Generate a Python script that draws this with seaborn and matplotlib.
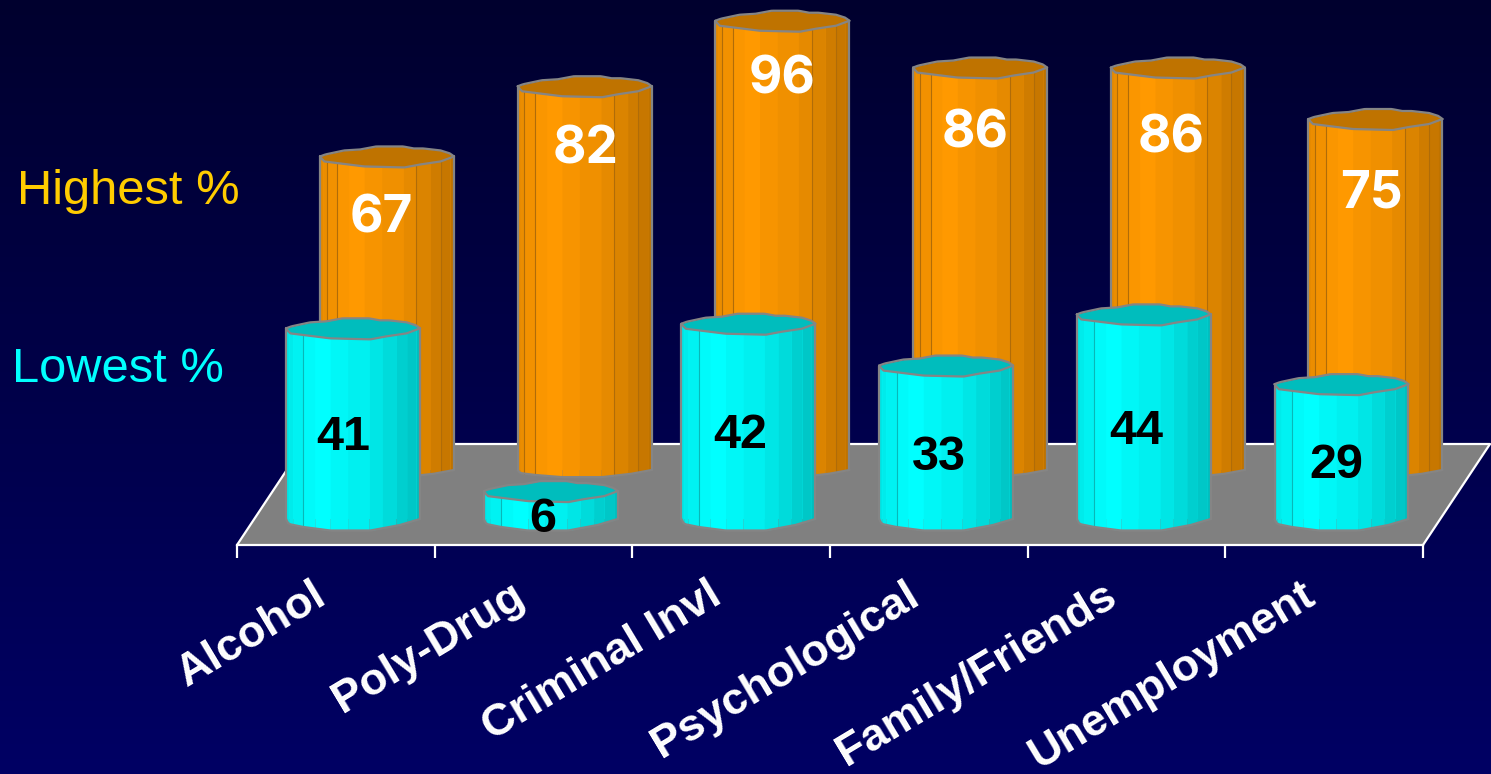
import numpy as np
import pandas as pd
import seaborn as sns
import matplotlib.pyplot as plt
from matplotlib.transforms import ScaledTranslation

# chart values
categories = ['Alcohol', 'Poly-Drug', 'Criminal Invl', 'Psychological', 'Family/Friends', 'Unemployment']
highest = [67, 82, 96, 86, 86, 75]
lowest = [41, 6, 42, 33, 44, 29]

W, H = 1491, 774

# cylinder look: facet edges across the bar width and their brightness
facet_edges = [0, .02, .05, .13, .215, .33, .46, .62, .72, .82, .90, .97, 1]
facet_shade = [.90, .92, .95, .98, 1, .97, .94, .90, .86, .81, .78, .75]
# outline wobble in pixels, (u, offset), negative is up
back_rim = ([0, .04, .18, .30, .42, .62, .70, .77, .90, .97, 1], [0, -2, -6, -7, -10, -10, -8, -8, -6, -3, 0])
front_rim = ([0, .03, .15, .33, .63, .75, .90, 1], [0, 5, 7, 10, 11, 8, 5, 0])
bottom_rim = ([0, .02, .13, .33, .63, .85, 1], [0, 5, 8, 11.5, 11.5, 6, 0])

# value label nudges in pixels
back_nudge = [(-2, 6), (5, 8), (4, 3), (-1, 10), (-3, 15), (0, 19)]
front_nudge = [(-1, 4), (1, 13), (1, 4), (2, 8), (1, 5), (4, 7)]


def px_axes(fig, left, right, top, bottom):
    return fig.add_axes([left / W, 1 - bottom / H, (right - left) / W, (bottom - top) / H])


def draw_cylinders(ax, values, color, top_color, line_color, px_per_unit, bulge, line_edges):
    df = pd.DataFrame({'category': categories, 'value': values})
    sns.barplot(data=df, x='category', y='value', color=color, saturation=1, width=134 / 197.7, ax=ax)
    ax.set_xlim(-.5, 5.5)
    ax.set_ylim(0, 100)
    ax.axis('off')
    rgb = np.array(plt.matplotlib.colors.to_rgb(color))
    for bar in ax.patches:
        x0, w, v = bar.get_x(), bar.get_width(), bar.get_height()
        bar.set_clip_on(False)
        bar.set_linewidth(0)
        u = np.linspace(0, 1, 61)
        top_front = v - np.interp(u, *front_rim) / px_per_unit
        top_back = v - np.interp(u, *back_rim) / px_per_unit
        bottom = -bulge * np.interp(u, *bottom_rim) / px_per_unit
        for k in range(len(facet_shade)):
            m = (u >= facet_edges[k] - 1e-9) & (u <= facet_edges[k + 1] + 1e-9)
            uu = np.r_[facet_edges[k], u[m], facet_edges[k + 1]]
            ax.fill_between(x0 + uu * w, np.interp(uu, u, bottom), np.interp(uu, u, top_front),
                            color=rgb * facet_shade[k], lw=0, clip_on=False, zorder=3)
        for e in line_edges:
            ax.plot([x0 + e * w] * 2, [np.interp(e, u, bottom), np.interp(e, u, top_front)],
                    color=line_color, lw=.8, clip_on=False, zorder=4)
        ax.fill_between(x0 + u * w, top_front, top_back, color=top_color, lw=0, clip_on=False, zorder=5)
        # grey outline of body and rim
        for line in (top_front, top_back, bottom):
            ax.plot(x0 + u * w, line, color='#858585', lw=1.6, clip_on=False, zorder=6)
        ax.plot([x0, x0], [0, v], color='#858585', lw=1.6, clip_on=False, zorder=6)
        ax.plot([x0 + w, x0 + w], [0, v], color='#858585', lw=1.6, clip_on=False, zorder=6)


sns.set_theme(style='white')
fig = plt.figure(figsize=(W / 100, H / 100), dpi=100)

# background and floor, in pixels
bg = fig.add_axes([0, 0, 1, 1])
grad = np.linspace(0, 1, 256).reshape(-1, 1)
bg.imshow(grad, extent=(0, W, H, 0), aspect='auto', vmin=0, vmax=1,
          cmap=plt.matplotlib.colors.LinearSegmentedColormap.from_list('bg', ['#00002e', '#000064']))
bg.fill([237, 1423, 1490, 304], [545, 545, 444, 444], color='#808080', lw=0)
bg.plot([237, 304, 1490, 1423], [545, 444, 444, 545], color='white', lw=1.6)
bg.set_xlim(0, W)
bg.set_ylim(H, 0)
bg.axis('off')
bg.text(17, 191, 'Highest %', color='#ffcc00', fontsize=35.2, family='Liberation Sans', va='center')
bg.text(12, 370, 'Lowest %', color='#00ffff', fontsize=35.2, family='Liberation Sans', va='center')

# back row
ax_back = px_axes(fig, 288.15, 1474.35, 2, 470)
ax_back.patch.set_alpha(0)
draw_cylinders(ax_back, highest, '#ff9900', '#bf7300', '#b06c08', 4.68, .62, [.05, .13, .72, .90])
for i, v in enumerate(highest):
    ax_back.annotate(str(v), (i - .02, v - 12), xytext=(back_nudge[i][0], -back_nudge[i][1]),
                     textcoords='offset pixels', color='white', fontsize=37, fontweight='bold',
                     family='Inter', ha='center', va='center', zorder=8)

# category axis, sits on the front edge of the floor
ax_x = px_axes(fig, 237, 1423, 535, 545)
ax_x.patch.set_alpha(0)
ax_x.set_xlim(-.5, 5.5)
ax_x.set_ylim(0, 1)
ax_x.set_yticks([])
sns.despine(ax=ax_x, left=True, top=True, right=True)
ax_x.spines['bottom'].set_color('white')
ax_x.spines['bottom'].set_linewidth(1.6)
ax_x.set_xticks(range(6), categories, rotation=31, ha='right', va='baseline',
                rotation_mode='anchor', color='white', fontsize=32.5, fontweight='bold',
                family='Liberation Sans')
ax_x.tick_params(axis='x', which='major', length=0, pad=0)
ax_x.set_xticks(np.arange(-.5, 6), minor=True)
ax_x.tick_params(axis='x', which='minor', bottom=True, length=9.5, width=1.6, color='white')
shift = ScaledTranslation(-7 / 100, -57 / 100, fig.dpi_scale_trans)
for lab in ax_x.get_xticklabels():
    lab.set_transform(lab.get_transform() + shift)

# front row
ax_front = px_axes(fig, 254.15, 1440.35, 54, 519)
ax_front.patch.set_alpha(0)
draw_cylinders(ax_front, lowest, '#00ffff', '#00bdbd', '#08b8b8', 4.65, 1, [.13])
for i, v in enumerate(lowest):
    ax_front.annotate(str(v), (i - .045, v * .45), xytext=(front_nudge[i][0], -front_nudge[i][1]),
                      textcoords='offset pixels', color='black', fontsize=35, fontweight='bold',
                      family='Liberation Sans', ha='center', va='center', zorder=8)

fig.savefig('out.png', dpi=100)
